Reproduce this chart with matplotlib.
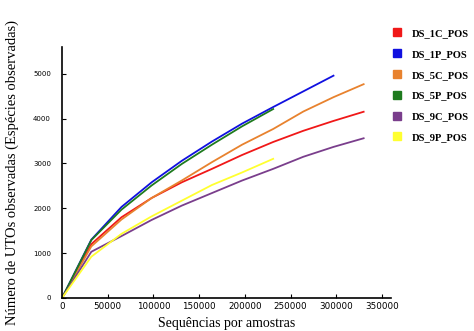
import matplotlib
matplotlib.use("Agg")
import matplotlib.pyplot as plt
from matplotlib.lines import Line2D

# sampling depths (sequences per sample)
depths = [0, 32000, 65000, 98000, 131000, 164000, 197000, 231000, 264000, 297000, 330000]

samples = ["DS_1C_POS", "DS_1P_POS", "DS_5C_POS", "DS_5P_POS", "DS_9C_POS", "DS_9P_POS"]

otus_1c = [0, 1200, 1800, 2230, 2580, 2880, 3190, 3480, 3730, 3950, 4155]
otus_1p = [0, 1300, 2030, 2580, 3060, 3490, 3890, 4260, 4610, 4960]
otus_5c = [0, 1150, 1750, 2230, 2620, 3030, 3420, 3770, 4160, 4480, 4770]
otus_5p = [0, 1290, 1970, 2510, 2990, 3420, 3830, 4215]
otus_9c = [0, 1030, 1380, 1740, 2060, 2340, 2620, 2880, 3150, 3370, 3563]
otus_9p = [0, 920, 1430, 1820, 2170, 2520, 2800, 3104]

colors = ["#f01818", "#1010e0", "#e8822e", "#1e7a1e", "#7a3e8c", "#ffff30"]
series = [otus_1c, otus_1p, otus_5c, otus_5p, otus_9c, otus_9p]

fig = plt.figure(figsize=(4.74, 3.31), dpi=100)
ax = fig.add_axes([0.131, 0.1, 0.694, 0.758])

for name, ys, c in zip(samples, series, colors):
    ax.plot(depths[:len(ys)], ys, color=c, linewidth=1.3)

ax.set_xlim(0, 360000)
ax.set_ylim(0, 5600)
ax.set_xticks(range(0, 350001, 50000))
ax.set_yticks(range(0, 5001, 1000))
ax.spines["top"].set_visible(False)
ax.spines["right"].set_visible(False)
for s in ["left", "bottom"]:
    ax.spines[s].set_linewidth(1.2)
ax.tick_params(direction="in", length=3, width=0.8, top=False, right=False)
ax.tick_params(axis="x", labelsize=6.3, pad=3)
ax.tick_params(axis="y", labelsize=5, pad=8)

ax.set_xlabel("Sequências por amostras", fontsize=10, family="Liberation Serif", labelpad=4)
ax.set_ylabel("Número de UTOs observadas (Espécies observadas)", fontsize=10.5,
              family="Liberation Serif", labelpad=10)

handles = [Line2D([], [], marker="s", linestyle="none", markersize=5.5,
                  markerfacecolor=c, markeredgecolor=c) for c in colors]
fig.legend(handles, samples, loc="upper left", bbox_to_anchor=(0.806, 0.942),
           frameon=False, handletextpad=0.9, labelspacing=1.08, handlelength=1.0,
           prop={"family": "Liberation Serif", "weight": "bold", "size": 7.6})

fig.savefig("out.png", dpi=100)
